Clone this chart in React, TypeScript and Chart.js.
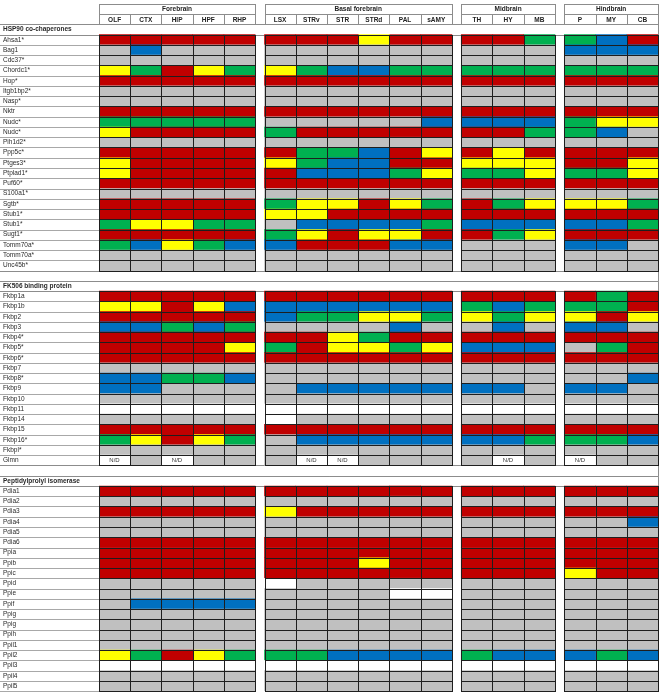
import React, { useEffect, useRef } from 'react';
import { Chart, registerables } from 'chart.js';

Chart.register(...registerables);

// ---------- data ----------
const regionGroups = ['Forebrain', 'Basal forebrain', 'Midbrain', 'Hindbrain'];
const groupSizes = [5, 6, 3, 3];
const regions = ['OLF', 'CTX', 'HIP', 'HPF', 'RHP', 'LSX', 'STRv', 'STR', 'STRd', 'PAL', 'sAMY', 'TH', 'HY', 'MB', 'P', 'MY', 'CB'];

// codes: R = red, S = grey, B = blue, G = green, Y = yellow, W = white, N = N/D
const hsp90Title = 'HSP90 co-chaperones';
const hsp90Genes = ['Ahsa1*', 'Bag1', 'Cdc37*', 'Chordc1*', 'Hop*', 'Itgb1bp2*', 'Nasp*', 'Nktr', 'Nudc*', 'Nudc*', 'Pih1d2*', 'Ppp5c*', 'Ptges3*', 'Ptplad1*', 'Puf60*', 'S100a1*', 'Sgtb*', 'Stub1*', 'Stub1*', 'Sugt1*', 'Tomm70a*', 'Tomm70a*', 'Unc45b*'];
const hsp90Codes = [
  'RRRRR RRRYRR RRG GBR',
  'SBSSS SSSSSS SSS BBB',
  'SSSSS SSSSSS SSS SSS',
  'YGRYG YGBBGG GGG GGG',
  'RRRRR RRRRRR RRR RRR',
  'SSSSS SSSSSS SSS SSS',
  'SSSSS SSSSSS SSS SSS',
  'RRRRR RRRRRR RRR RRR',
  'GGGGG SSSSSB BBB GYY',
  'YRRRR GRRRRR RRG GBS',
  'SSSSS SSSSSS SSS SSS',
  'RRRRR RGGBRY RYR RRR',
  'YRRRR YGBBRR YYY RRY',
  'YRRRR RBBBGY GGY GGY',
  'RRRRR RRRRRR RRR RRR',
  'SSSSS SSSSSS SSS SSS',
  'RRRRR GYYRYG RGY YYG',
  'RRRRR YYRRRR RRR RRR',
  'GYYGG SBBBBG BBB BBG',
  'RRRRR GYRYYR RGY RRR',
  'GBYGB BRRRBB SSS BBS',
  'SSSSS SSSSSS SSS SSS',
  'SSSSS SSSSSS SSS SSS',
];

const fkbpTitle = 'FK506 binding protein';
const fkbpGenes = ['Fkbp1a', 'Fkbp1b', 'Fkbp2', 'Fkbp3', 'Fkbp4*', 'Fkbp5*', 'Fkbp6*', 'Fkbp7', 'Fkbp8*', 'Fkbp9', 'Fkbp10', 'Fkbp11', 'Fkbp14', 'Fkbp15', 'Fkbp16*', 'Fkbpl*', 'Glmn'];
const fkbpCodes = [
  'RRRRR RRRRRR RRR RGR',
  'YYRYB BBBBBB GBG GGR',
  'RRRRR BGGYYG YGY YRY',
  'BBGBG SSSSBS SBS BBS',
  'RRRRR RRYGRR RRR RRR',
  'RRRRY GRYYGY BBB SGR',
  'RRRRR RRRRRR RRR RRR',
  'SSSSS SSSSSS SSS SSS',
  'BBGGB SSSSSS SSS SSB',
  'BBSSS SBBBBB BBS BBS',
  'SSSSS SSSSSS SSS SSS',
  'WWWWW WWWWWW WWW WWW',
  'SSSSS WSSSSS SSS SSS',
  'RRRRR RRRRRR RRR RRR',
  'GYRYG SBBBBB BBG GGB',
  'SSSSS SSSSSS SSS SSS',
  'NSNSS SNNSSS SNS NSS',
];

const ppiTitle = 'Peptidylprolyl isomerase';
const ppiGenes = ['Pdia1', 'Pdia2', 'Pdia3', 'Pdia4', 'Pdia5', 'Pdia6', 'Ppia', 'Ppib', 'Ppic', 'Ppid', 'Ppie', 'Ppif', 'Ppig', 'Ppig', 'Ppih', 'Ppil1', 'Ppil2', 'Ppil3', 'Ppil4', 'Ppil5'];
const ppiCodes = [
  'RRRRR RRRRRR RRR RRR',
  'SSSSS SSSSSS SSS SSS',
  'RRRRR YRRRRR RRR RRR',
  'SSSSS SSSSSS SSS SSB',
  'SSSSS SSSSSS SSS SSS',
  'RRRRR RRRRRR RRR RRR',
  'RRRRR RRRRRR RRR RRR',
  'RRRRR RRRYRR RRR RRR',
  'RRRRR RRRRRR RRR YRR',
  'SSSSS WSSSSS SSS SSS',
  'SSSSS SSSSWW SSS SSS',
  'SBBBB SSSSSS SSS SSS',
  'SSSSS SSSSSS SSS SSS',
  'SSSSS SSSSSS SSS SSS',
  'SSSSS SSSSSS SSS SSS',
  'SSSSS SSSSSS SSS SSS',
  'YGRYG GGBBBB GBB BGB',
  'WWWWW WWWWWW WWW WWW',
  'SSSSS SSSSSS SSS SSS',
  'SSSSS SSSSSS SSS SSS',
];

const ndLabel = 'N/D';

// ---------- styles ----------
const colorOf: Record<string, string> = {
  R: '#C00000', S: '#C0C0C0', B: '#0070C0', G: '#00B050', Y: '#FFFF00', W: '#FFFFFF', N: '#FFFFFF',
};
const FONT = "'Liberation Sans', Arial, sans-serif";
const GAP = 0.3;

type Row = { kind: 'head0' | 'head1' | 'title' | 'blank' | 'data'; label: string; codes?: string };

const sections = [
  { title: hsp90Title, genes: hsp90Genes, codes: hsp90Codes },
  { title: fkbpTitle, genes: fkbpGenes, codes: fkbpCodes },
  { title: ppiTitle, genes: ppiGenes, codes: ppiCodes },
];

const rows: Row[] = [{ kind: 'head0', label: '' }, { kind: 'head1', label: '' }];
sections.forEach((s, si) => {
  if (si > 0) rows.push({ kind: 'blank', label: '' });
  rows.push({ kind: 'title', label: s.title });
  s.genes.forEach((g, i) => rows.push({ kind: 'data', label: g, codes: s.codes[i].replace(/\s/g, '') }));
});

const groupOf: number[] = [];
groupSizes.forEach((n, g) => { for (let k = 0; k < n; k++) groupOf.push(g); });
const colStart = (c: number) => c + groupOf[c] * GAP;
const xMax = regions.length + (groupSizes.length - 1) * GAP;
const groupFirst = groupSizes.map((_, g) => groupOf.indexOf(g));
const groupLast = groupSizes.map((_, g) => groupOf.lastIndexOf(g));

const snap = (v: number) => Math.round(v) + 0.5;

const tablePlugin = {
  id: 'tableLines',
  beforeDatasetsDraw(chart: any) {
    const { ctx } = chart;
    const xs = chart.scales.x;
    const ys = chart.scales.y;
    const h = ys.getPixelForValue(1) - ys.getPixelForValue(0);
    const top = (i: number) => ys.getPixelForValue(i) - h / 2;
    const xLeft = xs.getPixelForValue(0);
    const xRight = xs.getPixelForValue(xMax);
    ctx.save();
    ctx.lineWidth = 1;
    // label column separators
    ctx.strokeStyle = '#a8a8a8';
    rows.forEach((row, i) => {
      if (row.kind === 'data') {
        ctx.beginPath();
        ctx.moveTo(0, snap(top(i)));
        ctx.lineTo(xLeft, snap(top(i)));
        ctx.moveTo(0, snap(top(i + 1)));
        ctx.lineTo(xLeft, snap(top(i + 1)));
        ctx.stroke();
      }
    });
    // title and blank rows: full-width boxes
    ctx.strokeStyle = '#8c8c8c';
    rows.forEach((row, i) => {
      if (row.kind === 'title' || row.kind === 'blank') {
        const y0 = snap(top(i));
        const y1 = snap(top(i + 1));
        ctx.beginPath();
        ctx.moveTo(0, y0);
        ctx.lineTo(snap(xRight), y0);
        ctx.lineTo(snap(xRight), y1);
        ctx.lineTo(0, y1);
        ctx.stroke();
      }
    });
    // header boxes
    ctx.strokeStyle = '#8c8c8c';
    groupSizes.forEach((_, g) => {
      const gx0 = snap(xs.getPixelForValue(colStart(groupFirst[g])));
      const gx1 = snap(xs.getPixelForValue(colStart(groupLast[g]) + 1));
      const y0 = snap(top(0));
      const ym = snap(top(1));
      const y1 = snap(top(2));
      ctx.strokeRect(gx0, y0, gx1 - gx0, y1 - y0);
      ctx.beginPath();
      ctx.moveTo(gx0, ym);
      ctx.lineTo(gx1, ym);
      for (let c = groupFirst[g] + 1; c <= groupLast[g]; c++) {
        const xc = snap(xs.getPixelForValue(colStart(c)));
        ctx.moveTo(xc, ym);
        ctx.lineTo(xc, y1);
      }
      ctx.stroke();
    });
    ctx.restore();
  },
  afterDatasetsDraw(chart: any) {
    const { ctx } = chart;
    const xs = chart.scales.x;
    const ys = chart.scales.y;
    const h = ys.getPixelForValue(1) - ys.getPixelForValue(0);
    const top = (i: number) => ys.getPixelForValue(i) - h / 2;
    ctx.save();
    ctx.lineWidth = 1;
    ctx.strokeStyle = '#1e1e1e';
    rows.forEach((row, i) => {
      if (row.kind !== 'data') return;
      const y0 = Math.round(top(i));
      const y1 = Math.round(top(i + 1));
      regions.forEach((_, c) => {
        const x0 = Math.round(xs.getPixelForValue(colStart(c)));
        const x1 = Math.round(xs.getPixelForValue(colStart(c) + 1));
        ctx.strokeRect(x0 + 0.5, y0 + 0.5, x1 - x0, y1 - y0);
        if (row.codes && row.codes[c] === 'N') {
          ctx.fillStyle = '#333';
          ctx.font = `6px ${FONT}`;
          ctx.textAlign = 'center';
          ctx.textBaseline = 'middle';
          ctx.fillText(ndLabel, (x0 + x1) / 2, (y0 + y1) / 2 + 0.5);
        }
      });
    });
    // header text
    ctx.fillStyle = '#222';
    ctx.font = `bold 6.5px ${FONT}`;
    ctx.textAlign = 'center';
    ctx.textBaseline = 'middle';
    regionGroups.forEach((name, g) => {
      const gx0 = xs.getPixelForValue(colStart(groupFirst[g]));
      const gx1 = xs.getPixelForValue(colStart(groupLast[g]) + 1);
      ctx.fillText(name, (gx0 + gx1) / 2, ys.getPixelForValue(0) + 0.5);
    });
    regions.forEach((name, c) => {
      const cx = xs.getPixelForValue(colStart(c) + 0.5);
      ctx.fillText(name, cx, ys.getPixelForValue(1) + 0.5);
    });
    ctx.restore();
  },
};

export default function App() {
  const canvasRef = useRef<HTMLCanvasElement | null>(null);

  useEffect(() => {
    const canvas = canvasRef.current;
    if (!canvas) return;
    const datasets = regions.map((name, c) => ({
      label: name,
      data: rows.map((row) => (row.kind === 'data' ? [colStart(c), colStart(c) + 1] : null)),
      backgroundColor: rows.map((row) => (row.kind === 'data' && row.codes ? colorOf[row.codes[c]] : 'rgba(0,0,0,0)')),
      borderWidth: 0,
      grouped: false,
      categoryPercentage: 1,
      barPercentage: 1,
    }));

    const chart = new Chart(canvas, {
      type: 'bar',
      data: { labels: rows.map((r) => r.label), datasets: datasets as any },
      options: {
        indexAxis: 'y',
        animation: false,
        responsive: false,
        devicePixelRatio: 1,
        layout: { padding: { left: 3, right: 3, top: 2, bottom: 3 } },
        plugins: { legend: { display: false }, tooltip: { enabled: false } },
        scales: {
          x: { type: 'linear', min: 0, max: xMax, display: false },
          y: {
            type: 'category',
            offset: true,
            grid: { display: false, drawTicks: false },
            border: { display: false },
            afterFit: (s: any) => { s.width = 96; },
            ticks: {
              autoSkip: false,
              crossAlign: 'far',
              padding: 0,
              color: '#2a2a2a',
              font: (ctx: any) => ({
                family: FONT,
                size: 6.5,
                weight: rows[ctx.index] && rows[ctx.index].kind === 'title' ? 'bold' : 'normal',
              }),
            },
          },
        },
      } as any,
      plugins: [tablePlugin],
    });
    return () => chart.destroy();
  }, []);

  return (
    <div style={{ position: 'absolute', left: 0, top: 0, width: 661, height: 695, background: '#fff' }}>
      <canvas ref={canvasRef} width={661} height={695} style={{ display: 'block' }} />
    </div>
  );
}
